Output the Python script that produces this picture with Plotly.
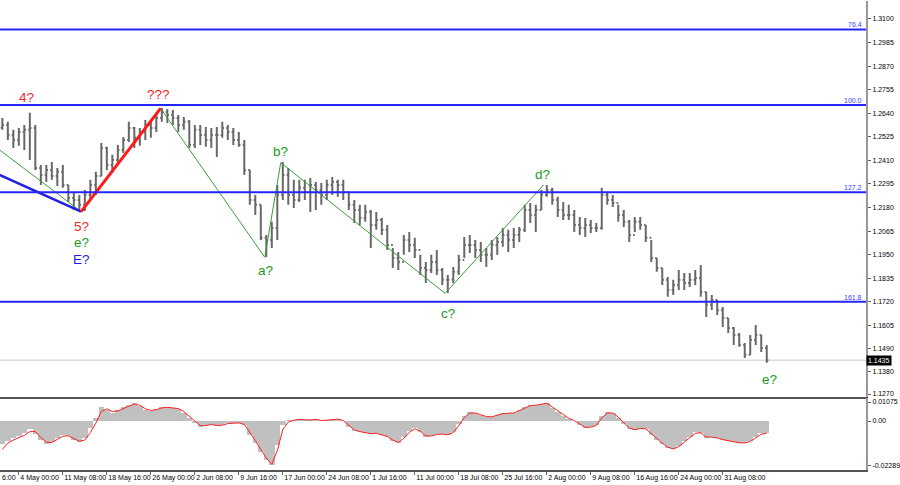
import plotly.graph_objects as go

# ---------------- data (EURUSD-like H4 chart, aggregated to 4-bar steps) ----------------
bar_idx = list(range(20, 580, 4))  # H4 bar numbers

high = [1.2617, 1.2598, 1.2559, 1.2568, 1.2583, 1.2642, 1.2583, 1.2388, 1.2388, 1.2402,
        1.2373, 1.2388, 1.2290, 1.2256, 1.2241, 1.2266, 1.2315, 1.2354, 1.2495, 1.2476,
        1.2437, 1.2485, 1.2524, 1.2598, 1.2573, 1.2568, 1.2607, 1.2598, 1.2642, 1.2666,
        1.2661, 1.2656, 1.2632, 1.2622, 1.2607, 1.2583, 1.2583, 1.2573, 1.2568, 1.2573,
        1.2598, 1.2583, 1.2568, 1.2549, 1.2510, 1.2363, 1.2241, 1.2193, 1.2046, 1.2110,
        1.2290, 1.2402, 1.2373, 1.2315, 1.2315, 1.2315, 1.2324, 1.2305, 1.2300, 1.2315,
        1.2329, 1.2315, 1.2315, 1.2256, 1.2217, 1.2193, 1.2193, 1.2168, 1.2158, 1.2129,
        1.2095, 1.1983, 1.1963, 1.2046, 1.2061, 1.2032, 1.1949, 1.1914, 1.1949, 1.1973,
        1.1885, 1.1851, 1.1890, 1.1949, 1.2036, 1.2046, 1.2022, 1.2012, 1.1983, 1.2022,
        1.2036, 1.2080, 1.2071, 1.2080, 1.2085, 1.2193, 1.2202, 1.2193, 1.2266, 1.2290,
        1.2276, 1.2232, 1.2207, 1.2193, 1.2168, 1.2134, 1.2129, 1.2119, 1.2105, 1.2276,
        1.2256, 1.2241, 1.2193, 1.2168, 1.2119, 1.2134, 1.2134, 1.2095, 1.2022, 1.1934,
        1.1885, 1.1841, 1.1827, 1.1875, 1.1861, 1.1861, 1.1875, 1.1900, 1.1768, 1.1753,
        1.1729, 1.1695, 1.1641, 1.1597, 1.1568, 1.1519, 1.1558, 1.1607, 1.1558, 1.1509]

low = [1.2559, 1.2510, 1.2471, 1.2481, 1.2461, 1.2412, 1.2363, 1.2290, 1.2305, 1.2315,
       1.2285, 1.2276, 1.2207, 1.2168, 1.2168, 1.2163, 1.2217, 1.2241, 1.2334, 1.2363,
       1.2349, 1.2388, 1.2446, 1.2500, 1.2471, 1.2481, 1.2510, 1.2520, 1.2549, 1.2598,
       1.2593, 1.2583, 1.2549, 1.2559, 1.2471, 1.2471, 1.2485, 1.2476, 1.2471, 1.2427,
       1.2520, 1.2510, 1.2485, 1.2476, 1.2339, 1.2193, 1.2144, 1.2022, 1.1939, 1.1983,
       1.2022, 1.2217, 1.2193, 1.2178, 1.2207, 1.2217, 1.2158, 1.2168, 1.2193, 1.2217,
       1.2241, 1.2232, 1.2217, 1.2168, 1.2105, 1.2095, 1.2110, 1.1983, 1.2071, 1.2046,
       1.1973, 1.1885, 1.1875, 1.1949, 1.1963, 1.1934, 1.1851, 1.1812, 1.1861, 1.1851,
       1.1802, 1.1763, 1.1812, 1.1851, 1.1934, 1.1958, 1.1934, 1.1914, 1.1890, 1.1924,
       1.1949, 1.1988, 1.1963, 1.1983, 1.2012, 1.2061, 1.2105, 1.2061, 1.2168, 1.2232,
       1.2193, 1.2134, 1.2119, 1.2119, 1.2061, 1.2046, 1.2036, 1.2056, 1.2061, 1.2071,
       1.2193, 1.2183, 1.2110, 1.2085, 1.2012, 1.2061, 1.2071, 1.2012, 1.1914, 1.1866,
       1.1802, 1.1744, 1.1753, 1.1778, 1.1778, 1.1792, 1.1802, 1.1744, 1.1646, 1.1680,
       1.1656, 1.1597, 1.1568, 1.1509, 1.1500, 1.1446, 1.1461, 1.1509, 1.1475, 1.1422]

close = [1.2583, 1.2534, 1.2510, 1.2549, 1.2559, 1.2568, 1.2373, 1.2339, 1.2363, 1.2334,
         1.2354, 1.2290, 1.2227, 1.2217, 1.2193, 1.2241, 1.2290, 1.2334, 1.2471, 1.2388,
         1.2412, 1.2461, 1.2510, 1.2568, 1.2520, 1.2549, 1.2583, 1.2568, 1.2617, 1.2646,
         1.2632, 1.2617, 1.2583, 1.2598, 1.2485, 1.2559, 1.2534, 1.2510, 1.2534, 1.2534,
         1.2568, 1.2549, 1.2510, 1.2485, 1.2363, 1.2217, 1.2193, 1.2032, 1.2022, 1.2080,
         1.2241, 1.2339, 1.2241, 1.2217, 1.2276, 1.2256, 1.2290, 1.2266, 1.2241, 1.2290,
         1.2305, 1.2290, 1.2256, 1.2193, 1.2168, 1.2129, 1.2158, 1.2095, 1.2119, 1.2071,
         1.1997, 1.1934, 1.1914, 1.2022, 1.1997, 1.1973, 1.1885, 1.1875, 1.1914, 1.1875,
         1.1827, 1.1827, 1.1866, 1.1924, 1.1997, 1.1997, 1.1973, 1.1949, 1.1949, 1.1997,
         1.2012, 1.2046, 1.2022, 1.2046, 1.2071, 1.2168, 1.2144, 1.2168, 1.2241, 1.2266,
         1.2217, 1.2168, 1.2144, 1.2144, 1.2095, 1.2080, 1.2095, 1.2080, 1.2080, 1.2241,
         1.2217, 1.2202, 1.2144, 1.2110, 1.2046, 1.2110, 1.2095, 1.2032, 1.1934, 1.1885,
         1.1827, 1.1778, 1.1802, 1.1827, 1.1812, 1.1827, 1.1836, 1.1768, 1.1705, 1.1729,
         1.1680, 1.1641, 1.1592, 1.1558, 1.1509, 1.1461, 1.1534, 1.1558, 1.1495, 1.1435]

first_open = 1.2570

macd_hist = [-0.0109, -0.0095, -0.0081, -0.0071, -0.0057, -0.0038, -0.0062, -0.0090, -0.0109, -0.0100,
             -0.0081, -0.0066, -0.0071, -0.0090, -0.0100, -0.0081, -0.0033, 0.0014, 0.0066, 0.0052,
             0.0038, 0.0052, 0.0066, 0.0076, 0.0085, 0.0071, 0.0052, 0.0047, 0.0057, 0.0066,
             0.0066, 0.0062, 0.0057, 0.0038, 0.0014, -0.0009, -0.0028, -0.0019, -0.0014, -0.0024,
             -0.0019, -0.0009, -0.0009, -0.0009, -0.0019, -0.0066, -0.0104, -0.0147, -0.0185, -0.0209,
             -0.0114, -0.0019, 0.0005, 0.0005, 0.0009, 0.0005, 0.0005, 0.0009, 0.0000, 0.0005,
             0.0009, 0.0009, 0.0000, -0.0028, -0.0047, -0.0052, -0.0057, -0.0062, -0.0057, -0.0066,
             -0.0076, -0.0095, -0.0104, -0.0076, -0.0047, -0.0033, -0.0052, -0.0076, -0.0071, -0.0062,
             -0.0062, -0.0066, -0.0052, -0.0014, 0.0024, 0.0043, 0.0038, 0.0028, 0.0019, 0.0019,
             0.0028, 0.0038, 0.0038, 0.0038, 0.0052, 0.0066, 0.0076, 0.0076, 0.0081, 0.0085,
             0.0062, 0.0043, 0.0024, 0.0009, 0.0000, -0.0019, -0.0033, -0.0028, -0.0019, 0.0024,
             0.0043, 0.0038, 0.0014, -0.0014, -0.0038, -0.0043, -0.0033, -0.0038, -0.0066, -0.0090,
             -0.0109, -0.0128, -0.0133, -0.0119, -0.0095, -0.0076, -0.0052, -0.0057, -0.0081, -0.0076,
             -0.0081, -0.0090, -0.0095, -0.0100, -0.0104, -0.0104, -0.0095, -0.0076, -0.0057, -0.0057]

macd_signal = [-0.0135, -0.0105, -0.0090, -0.0080, -0.0068, -0.0050, -0.0050, -0.0078, -0.0100, -0.0102,
               -0.0088, -0.0072, -0.0070, -0.0082, -0.0096, -0.0090, -0.0055, -0.0010, 0.0045, 0.0058,
               0.0045, 0.0048, 0.0060, 0.0070, 0.0080, 0.0075, 0.0058, 0.0050, 0.0054, 0.0062,
               0.0065, 0.0063, 0.0059, 0.0045, 0.0022, 0.0000, -0.0022, -0.0022, -0.0016, -0.0021,
               -0.0020, -0.0012, -0.0010, -0.0009, -0.0016, -0.0052, -0.0092, -0.0135, -0.0175, -0.0205,
               -0.0140, -0.0040, -0.0005, 0.0004, 0.0008, 0.0006, 0.0005, 0.0008, 0.0002, 0.0004,
               0.0008, 0.0009, 0.0002, -0.0022, -0.0042, -0.0050, -0.0055, -0.0060, -0.0058, -0.0064,
               -0.0073, -0.0090, -0.0102, -0.0082, -0.0053, -0.0037, -0.0048, -0.0070, -0.0071, -0.0064,
               -0.0062, -0.0065, -0.0055, -0.0022, 0.0016, 0.0038, 0.0038, 0.0030, 0.0021, 0.0020,
               0.0026, 0.0035, 0.0037, 0.0038, 0.0049, 0.0062, 0.0073, 0.0075, 0.0079, 0.0084,
               0.0067, 0.0048, 0.0029, 0.0013, 0.0002, -0.0015, -0.0030, -0.0029, -0.0021, 0.0014,
               0.0038, 0.0038, 0.0019, -0.0008, -0.0033, -0.0041, -0.0035, -0.0037, -0.0060, -0.0085,
               -0.0105, -0.0124, -0.0132, -0.0121, -0.0100, -0.0080, -0.0058, -0.0056, -0.0076, -0.0076,
               -0.0080, -0.0088, -0.0093, -0.0098, -0.0103, -0.0104, -0.0097, -0.0080, -0.0062, -0.0058]

# x-axis (time) labels, every 32 H4 bars
time_tick_idx = [32, 64, 96, 128, 160, 192, 224, 256, 288, 320, 352, 384, 416, 448, 480, 512, 544]
time_tick_labels = ["4 May 00:00", "11 May 08:00", "18 May 16:00", "26 May 00:00", "2 Jun 08:00",
                    "9 Jun 16:00", "17 Jun 00:00", "24 Jun 08:00", "1 Jul 16:00", "11 Jul 00:00",
                    "18 Jul 08:00", "25 Jul 16:00", "2 Aug 00:00", "9 Aug 08:00", "16 Aug 16:00",
                    "24 Aug 00:00", "31 Aug 08:00"]

price_ticks = [1.3100, 1.2985, 1.2870, 1.2755, 1.2640, 1.2525, 1.2410, 1.2295, 1.2180,
               1.2065, 1.1950, 1.1835, 1.1720, 1.1605, 1.1490, 1.1380, 1.1270]

# Fibonacci levels
fib_labels = ["76.4", "100.0", "127.2", "161.8"]
fib_prices = [1.3049, 1.2680, 1.2254, 1.1720]
last_price = 1.1435

# wave markup (bar number, price)
blue_x, blue_y = [18, 77.3], [1.2339, 1.2160]
red_x, red_y = [77.3, 135.1], [1.2160, 1.2664]
green1_x, green1_y = [18, 77.3], [1.2461, 1.2160]
green2_x = [135.1, 210.9, 222.5, 342.1, 413.6]
green2_y = [1.2664, 1.1937, 1.2399, 1.1761, 1.2290]

wave_texts = ["4?", "???", "5?", "e?", "E?", "a?", "b?", "c?", "d?", "e?"]
wave_tx = [37.8, 133.9, 77.5, 77.5, 77.5, 211.2, 222.0, 344.0, 412.7, 578.1]
wave_ty = [1.2719, 1.2734, 1.2085, 1.2007, 1.1924, 1.1875, 1.2451, 1.1665, 1.2339, 1.1343]
RED, GREEN, BLUE = "#f02828", "#229922", "#1e1ef0"
wave_colors = [RED, RED, RED, GREEN, BLUE, GREEN, GREEN, GREEN, GREEN, GREEN]

# ---------------- figure ----------------
opens = [first_open] + close[:-1]
assert len(high) == len(low) == len(close) == len(bar_idx) == len(macd_hist) == len(macd_signal)

X_RANGE = [18.3, 648.2]
FONT = "Liberation Sans, Arial, sans-serif"

fig = go.Figure()

fig.add_trace(go.Ohlc(
    x=bar_idx, open=opens, high=high, low=low, close=close,
    increasing=dict(line=dict(color="#686868", width=2)),
    decreasing=dict(line=dict(color="#686868", width=2)),
    tickwidth=0.3, hoverinfo="skip", showlegend=False, xaxis="x", yaxis="y"))

fig.add_trace(go.Scatter(x=green1_x, y=green1_y, mode="lines",
                         line=dict(color="#3a9e3a", width=1), showlegend=False, hoverinfo="skip"))
fig.add_trace(go.Scatter(x=green2_x, y=green2_y, mode="lines",
                         line=dict(color="#3a9e3a", width=1), showlegend=False, hoverinfo="skip"))
fig.add_trace(go.Scatter(x=blue_x, y=blue_y, mode="lines",
                         line=dict(color="#2020e0", width=2.5), showlegend=False, hoverinfo="skip"))
fig.add_trace(go.Scatter(x=red_x, y=red_y, mode="lines",
                         line=dict(color="#ff1a1a", width=3), showlegend=False, hoverinfo="skip"))

fig.add_trace(go.Bar(x=bar_idx, y=macd_hist, width=4, marker=dict(color="#c0c0c0", line=dict(width=0)),
                     showlegend=False, hoverinfo="skip", xaxis="x2", yaxis="y2"))
fig.add_trace(go.Scatter(x=bar_idx, y=macd_signal, mode="lines", line=dict(color="#ff2020", width=1),
                         showlegend=False, hoverinfo="skip", xaxis="x2", yaxis="y2"))

shapes = []
for p in fib_prices:
    shapes.append(dict(type="line", xref="x domain", x0=0, x1=1, yref="y", y0=p, y1=p,
                       line=dict(color="#2424ff", width=2), layer="above"))
shapes.append(dict(type="line", xref="x domain", x0=0, x1=1, yref="y", y0=last_price, y1=last_price,
                   line=dict(color="#c8c8c8", width=1), layer="below"))

annotations = []
for lab, p in zip(fib_labels, fib_prices):
    annotations.append(dict(xref="x domain", x=0.998, yref="y", y=p, text=lab, showarrow=False,
                            xanchor="right", yanchor="bottom", yshift=-1,
                            font=dict(family=FONT, size=7, color="#3a3aff")))
for t, tx, ty, c in zip(wave_texts, wave_tx, wave_ty, wave_colors):
    annotations.append(dict(xref="x", x=tx, yref="y", y=ty, text=t, showarrow=False,
                            xanchor="center", yanchor="middle",
                            font=dict(family=FONT, size=13.5, color=c)))
annotations.append(dict(xref="paper", x=1.0, yref="y", y=last_price, text="1.1435", showarrow=False,
                        xanchor="left", yanchor="middle", bgcolor="#000000", borderpad=1,
                        font=dict(family=FONT, size=7, color="#ffffff")))
annotations.append(dict(xref="paper", x=0.0, yref="paper", y=0, yshift=-2, text="6:00", showarrow=False,
                        xanchor="left", yanchor="top", font=dict(family=FONT, size=7, color="#000000")))

fig.update_layout(
    width=900, height=485,
    margin=dict(l=0, r=28, t=1, b=15),
    paper_bgcolor="white", plot_bgcolor="white",
    bargap=0, showlegend=False,
    shapes=shapes, annotations=annotations,
    xaxis=dict(domain=[0, 1], anchor="y", range=X_RANGE, showticklabels=False, showgrid=False,
               zeroline=False, showline=True, linecolor="#555555", linewidth=2, ticks="",
               rangeslider=dict(visible=False)),
    yaxis=dict(domain=[0.1567, 1], anchor="x", side="right", range=[1.12578, 1.31878],
               tickvals=price_ticks, ticktext=["%.4f" % v for v in price_ticks],
               tickfont=dict(family=FONT, size=7, color="#000000"),
               showgrid=False, zeroline=False, showline=True, linecolor="#999999", linewidth=2,
               ticks="outside", ticklen=3, tickcolor="#666666"),
    xaxis2=dict(domain=[0, 1], anchor="y2", range=X_RANGE, matches="x",
                tickvals=time_tick_idx, ticktext=time_tick_labels, ticklabelposition="outside right",
                tickfont=dict(family=FONT, size=7, color="#000000"), tickangle=0,
                showgrid=False, zeroline=False, showline=True, linecolor="#555555", linewidth=2,
                ticks="outside", ticklen=3, tickcolor="#666666"),
    yaxis2=dict(domain=[0, 0.1535], anchor="x2", side="right", range=[-0.0232, 0.0109],
                tickvals=[0.0090, 0.0, -0.0213], ticktext=["0.01075", "0.00", "-0.02289"],
                tickfont=dict(family=FONT, size=7, color="#000000"),
                showgrid=False, zeroline=False, showline=True, linecolor="#999999", linewidth=2,
                ticks="outside", ticklen=3, tickcolor="#666666"),
)

fig.write_html("out.html", config={"displayModeBar": False, "staticPlot": True},
               post_script="document.body.style.margin='0px';document.body.style.overflow='hidden';")
